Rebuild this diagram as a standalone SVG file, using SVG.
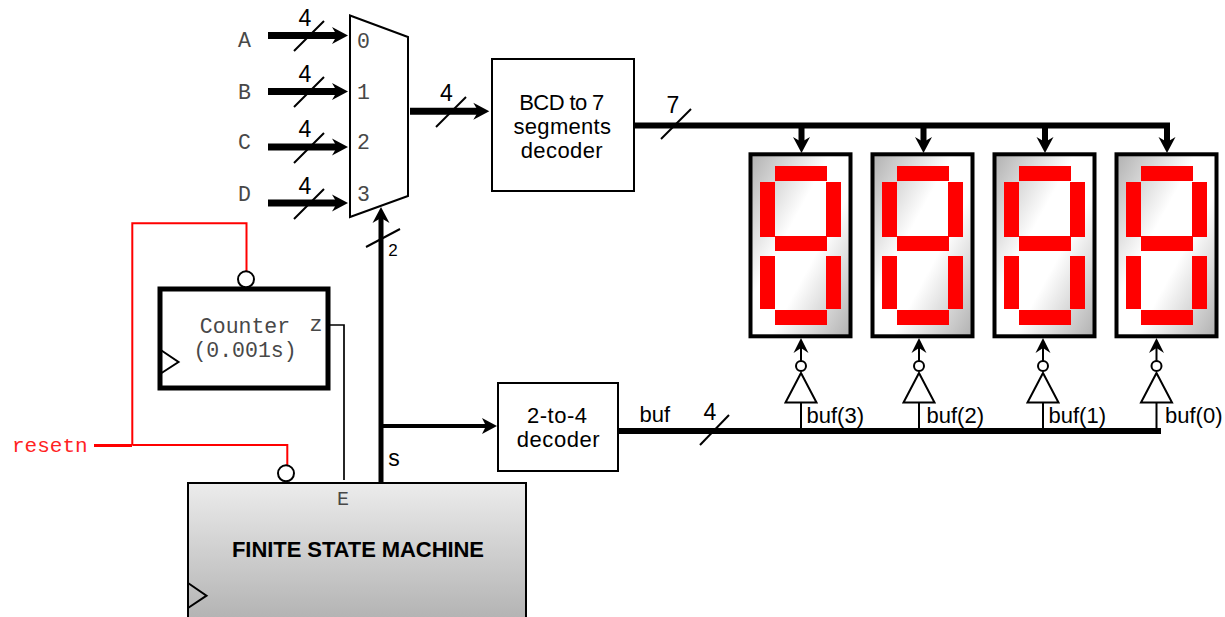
<svg xmlns="http://www.w3.org/2000/svg" width="1225" height="617" viewBox="0 0 1225 617">
<style>
text{font-family:"Liberation Sans",Arial,sans-serif;fill:#000}
.m{font-family:"Liberation Mono","Courier New",monospace;fill:#484848;font-size:21.500px}
.w{font-size:22px}
.n{font-size:23px;text-anchor:middle}
.box{fill:#fff;stroke:#000;stroke-width:2}
.bus{fill:none;stroke:#000;stroke-width:6}
.thin{fill:none;stroke:#000;stroke-width:2}
.red{fill:none;stroke:#f00;stroke-width:2}
.slash{fill:none;stroke:#000;stroke-width:2}
.bub{fill:#fff;stroke:#000;stroke-width:2}
.seg{fill:#f00}
</style>
<defs>
<linearGradient id="dg" x1="0" y1="0" x2="1" y2="1">
<stop offset="0" stop-color="#b0b0b0"/><stop offset="0.4" stop-color="#fff"/><stop offset="0.6" stop-color="#fff"/><stop offset="1" stop-color="#b0b0b0"/>
</linearGradient>
<linearGradient id="fg" x1="0" y1="0" x2="0" y2="1">
<stop offset="0" stop-color="#ececec"/><stop offset="1" stop-color="#b4b4b4"/>
</linearGradient>
<path id="hR" d="M0 0L-16 -8.500L-11 0L-16 8.500Z"/>
<g id="disp">
<rect x="2" y="2" width="100" height="182" fill="url(#dg)" stroke="#000" stroke-width="4"/>
<rect class="seg" x="26.500" y="13.700" width="52" height="15"/>
<rect class="seg" x="11.500" y="29.700" width="15" height="55"/>
<rect class="seg" x="77.500" y="29.700" width="15" height="55"/>
<rect class="seg" x="26.500" y="83.700" width="52" height="15"/>
<rect class="seg" x="11.500" y="103.700" width="15" height="53"/>
<rect class="seg" x="77.500" y="103.700" width="15" height="53"/>
<rect class="seg" x="26.500" y="157.700" width="52" height="15"/>
</g>
<g id="inv">
<path class="thin" d="M0 0V-28"/>
<path class="box" d="M0 -58L15.500 -28.500H-15.500Z"/>
<circle class="bub" cx="0" cy="-65" r="5"/>
<path class="thin" d="M0 -70V-84"/>
<path transform="translate(0 -93) rotate(-90)" d="M0 0L-15 -7.500L-10 0L-15 7.500Z"/>
</g>
</defs>

<g id="connectors">
<path class="bus" style="stroke-width:7" d="M268 35.500H338M268 91.500H338M268 147H338M268 203H338"/>
<g id="inArrows">
<use href="#hR" x="348" y="35.500"/><use href="#hR" x="348" y="91.500"/><use href="#hR" x="348" y="147"/><use href="#hR" x="348" y="203"/>
</g>
<path class="slash" d="M294 51L324 21M294 107L324 77M294 163L324 133M294 219L324 189"/>
<path class="bus" style="stroke-width:7" d="M410 111.300H480"/>
<use href="#hR" x="489.300" y="111.300"/>
<path class="slash" d="M436 127L466 97"/>
<path class="bus" d="M634 125.500H1170"/>
<path class="slash" d="M661 139L691 109"/>
<path class="bus" d="M801.500 125V143M923.500 125V143M1045 125V143M1167 125V143"/>
<g>
<use href="#hR" transform="translate(801.500 153) rotate(90)"/>
<use href="#hR" transform="translate(923.500 153) rotate(90)"/>
<use href="#hR" transform="translate(1045 153) rotate(90)"/>
<use href="#hR" transform="translate(1167 153) rotate(90)"/>
</g>
<path class="bus" style="stroke-width:5" d="M381 483V215"/>
<use href="#hR" transform="translate(381 207) rotate(-90)"/>
<path class="slash" d="M366 247L400 229"/>
<path class="bus" style="stroke-width:4" d="M381 426H490"/>
<path d="M497 426L482 418L486 426L482 434Z"/>
<path class="bus" d="M618 431H1161"/>
<path class="slash" d="M700 445L729 415"/>
<path class="thin" style="stroke-width:1.700" d="M327 325H344V480"/>
<path class="red" d="M132.300 445V223.300H246.500V271"/>
<path class="red" d="M132.300 445H287.300V465"/>
<path d="M94 445.600H132" fill="none" stroke="#f00" stroke-width="3"/>
</g>

<g id="mux">
<path class="box" d="M350 15.500L408 37V196L350 217Z"/>
<text class="m" x="357" y="47.500">0</text><text class="m" x="357" y="99">1</text><text class="m" x="357" y="149">2</text><text class="m" x="357" y="201">3</text>
</g>
<g id="inputs">
<text class="m" x="238" y="47">A</text><text class="m" x="238" y="99">B</text><text class="m" x="238" y="149">C</text><text class="m" x="238" y="201">D</text>
<text class="n" x="305" y="26">4</text><text class="n" x="305" y="82">4</text><text class="n" x="305" y="137">4</text><text class="n" x="305" y="194">4</text>
<text class="n" x="446.500" y="101">4</text>
<text class="n" x="673" y="113">7</text>
<text class="n" x="710" y="420">4</text>
<text x="393" y="256" font-size="17" text-anchor="middle">2</text>
<text x="394" y="466" font-size="23" text-anchor="middle">s</text>
<text class="w" x="639.500" y="422">buf</text>
</g>
<g id="bcd">
<rect class="box" x="492" y="59" width="142" height="132"/>
<text class="w" x="519.300" y="109.500" textLength="85" lengthAdjust="spacing">BCD to 7</text>
<text class="w" x="513.500" y="133.500" textLength="97.500" lengthAdjust="spacing">segments</text>
<text class="w" x="520.700" y="158" textLength="82" lengthAdjust="spacing">decoder</text>
</g>
<g id="dec24">
<rect class="box" x="498" y="383" width="120" height="88"/>
<text class="w" x="527" y="423" textLength="60" lengthAdjust="spacing">2-to-4</text>
<text class="w" x="516.700" y="447" textLength="83" lengthAdjust="spacing">decoder</text>
</g>
<g id="counter">
<rect x="160" y="289" width="168" height="99" fill="#fff" stroke="#000" stroke-width="5"/>
<path class="thin" d="M160 349.500L178.500 362L160 374"/>
<text class="m" x="245" y="333" text-anchor="middle">Counter</text>
<text class="m" x="245" y="357" text-anchor="middle">(0.001s)</text>
<text class="m" x="316" y="331" text-anchor="middle">z</text>
<circle class="bub" cx="246" cy="279.300" r="8"/>
</g>
<g id="fsm">
<path d="M188 617V483H526V617" fill="url(#fg)" stroke="#000" stroke-width="2"/>
<path class="thin" d="M188 583L206.500 595.700L188 608"/>
<text class="m" x="343" y="505" text-anchor="middle" style="font-size:20px">E</text>
<text x="232" y="557" font-size="22" font-weight="bold" textLength="252" lengthAdjust="spacing">FINITE STATE MACHINE</text>
<circle class="bub" cx="286" cy="473.300" r="8"/>
</g>
<text id="resetn" x="12" y="452" class="m" style="fill:#f22;font-size:21px">resetn</text>
<g id="display3"><use href="#disp" x="748.500" y="152.300"/></g>
<g id="display2"><use href="#disp" x="870.500" y="152.300"/></g>
<g id="display1"><use href="#disp" x="992.500" y="152.300"/></g>
<g id="display0"><use href="#disp" x="1114.500" y="152.300"/></g>
<g id="inv3"><use href="#inv" x="801" y="431"/><text class="w" x="806.500" y="423">buf(3)</text></g>
<g id="inv2"><use href="#inv" x="919" y="431"/><text class="w" x="926.500" y="423">buf(2)</text></g>
<g id="inv1"><use href="#inv" x="1043" y="431"/><text class="w" x="1048.500" y="423">buf(1)</text></g>
<g id="inv0"><use href="#inv" x="1156.500" y="431"/><text class="w" x="1165" y="423">buf(0)</text></g>
</svg>
